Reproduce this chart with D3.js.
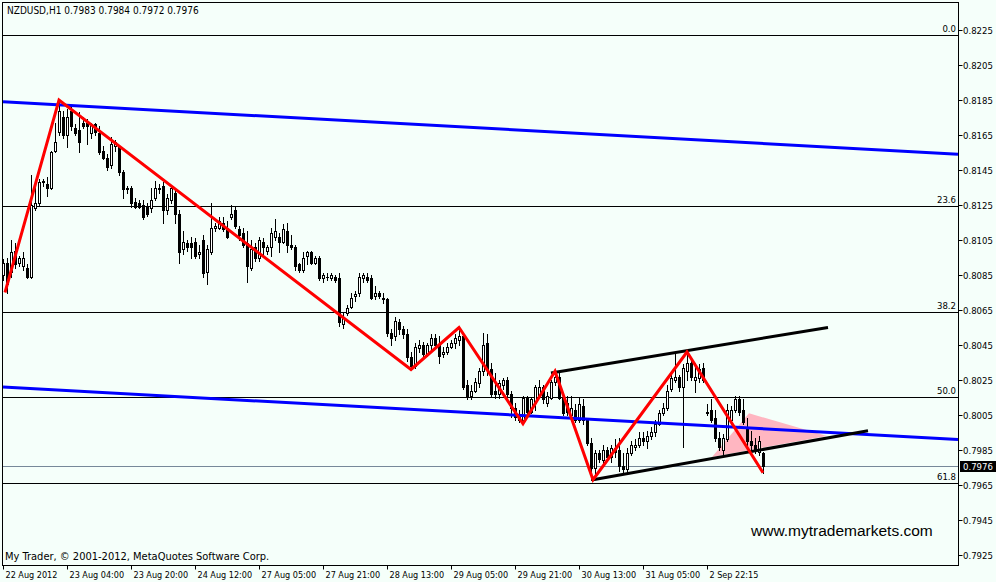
<!DOCTYPE html>
<html><head><meta charset="utf-8">
<script src="https://cdn.jsdelivr.net/npm/d3@7"></script>
<style>html,body{margin:0;padding:0;background:#f5fffa}svg{display:block}</style>
</head><body>
<svg id="chart" width="996" height="582"></svg>
<script>
// ---- data (NZDUSD H1) ----
const opens = [0.8085,0.8092,0.8087,0.8099,0.8092,0.8090,0.8089,0.8084,0.8123,0.8126,
0.8138,0.8137,0.8135,0.8156,0.8167,0.8175,0.8165,0.8179,0.8169,0.8168,
0.8172,0.8172,0.8166,0.8171,0.8166,0.8156,0.8152,0.8148,0.8159,0.8158,
0.8144,0.8134,0.8135,0.8127,0.8126,0.8125,0.8124,0.8123,0.8129,0.8134,
0.8136,0.8122,0.8128,0.8132,0.8120,0.8100,0.8103,0.8103,0.8104,0.8097,
0.8105,0.8087,0.8098,0.8112,0.8112,0.8115,0.8112,0.8118,0.8122,0.8111,
0.8109,0.8103,0.8089,0.8101,0.8095,0.8104,0.8099,0.8101,0.8107,0.8107,
0.8104,0.8110,0.8102,0.8101,0.8091,0.8088,0.8096,0.8098,0.8092,0.8095,
0.8083,0.8084,0.8083,0.8084,0.8083,0.8057,0.8063,0.8067,0.8073,0.8075,
0.8083,0.8084,0.8083,0.8073,0.8075,0.8072,0.8071,0.8052,0.8050,0.8058,
0.8054,0.8051,0.8038,0.8033,0.8043,0.8045,0.8040,0.8045,0.8049,0.8045,
0.8040,0.8041,0.8044,0.8046,0.8048,0.8050,0.8022,0.8016,0.8019,0.8023,
0.8030,0.8046,0.8031,0.8019,0.8017,0.8022,0.8025,0.8017,0.8009,0.8004,
0.8002,0.8015,0.8007,0.8012,0.8016,0.8021,0.8012,0.8015,0.8024,0.8027,
0.8015,0.8012,0.8005,0.8008,0.8002,0.8010,0.8002,0.7989,0.7975,0.7983,
0.7979,0.7985,0.7981,0.7986,0.7985,0.7976,0.7974,0.7983,0.7987,0.7988,
0.7992,0.7990,0.7993,0.7995,0.8000,0.8006,0.8009,0.8020,0.8025,0.8027,
0.8021,0.8030,0.8035,0.8025,0.8026,0.8032,0.8006,0.8008,0.8003,0.7992,
0.7985,0.7991,0.8002,0.8008,0.8014,0.8008,0.7998,0.7990,0.7988,0.7984,
0.7983];
const highs = [0.8094,0.8095,0.8105,0.8103,0.8096,0.8098,0.8091,0.8142,0.8135,0.8140,
0.8140,0.8141,0.8156,0.8172,0.8185,0.8179,0.8180,0.8181,0.8171,0.8178,
0.8175,0.8174,0.8172,0.8172,0.8170,0.8159,0.8154,0.8164,0.8162,0.8159,
0.8145,0.8136,0.8136,0.8129,0.8128,0.8128,0.8126,0.8135,0.8139,0.8137,
0.8138,0.8131,0.8136,0.8134,0.8122,0.8110,0.8105,0.8107,0.8106,0.8102,
0.8108,0.8102,0.8126,0.8115,0.8118,0.8118,0.8116,0.8125,0.8124,0.8113,
0.8112,0.8110,0.8105,0.8103,0.8107,0.8106,0.8102,0.8112,0.8117,0.8109,
0.8114,0.8115,0.8108,0.8102,0.8092,0.8098,0.8099,0.8099,0.8096,0.8096,
0.8086,0.8086,0.8086,0.8085,0.8086,0.8064,0.8068,0.8075,0.8076,0.8086,
0.8086,0.8086,0.8085,0.8079,0.8076,0.8075,0.8072,0.8054,0.8061,0.8060,
0.8056,0.8054,0.8041,0.8046,0.8048,0.8047,0.8046,0.8051,0.8051,0.8050,
0.8044,0.8046,0.8048,0.8051,0.8055,0.8051,0.8025,0.8022,0.8026,0.8032,
0.8052,0.8051,0.8035,0.8029,0.8025,0.8026,0.8027,0.8019,0.8012,0.8008,
0.8016,0.8016,0.8015,0.8022,0.8025,0.8022,0.8018,0.8025,0.8030,0.8029,
0.8017,0.8016,0.8016,0.8011,0.8015,0.8014,0.8003,0.7992,0.7985,0.7985,
0.7988,0.7987,0.7988,0.7991,0.7992,0.7983,0.7986,0.7990,0.7991,0.7995,
0.7995,0.7996,0.7998,0.8002,0.8008,0.8012,0.8022,0.8028,0.8040,0.8028,
0.8034,0.8041,0.8036,0.8035,0.8034,0.8035,0.8011,0.8014,0.8008,0.7995,
0.7994,0.8011,0.8010,0.8016,0.8016,0.8014,0.8003,0.7996,0.7992,0.7993,
0.7984];
const lows = [0.8082,0.8075,0.8084,0.8089,0.8090,0.8088,0.8083,0.8083,0.8122,0.8125,
0.8136,0.8130,0.8134,0.8155,0.8165,0.8163,0.8158,0.8168,0.8165,0.8155,
0.8169,0.8160,0.8163,0.8165,0.8154,0.8151,0.8145,0.8146,0.8156,0.8142,
0.8129,0.8132,0.8124,0.8123,0.8123,0.8117,0.8119,0.8121,0.8128,0.8132,
0.8115,0.8120,0.8126,0.8115,0.8092,0.8097,0.8099,0.8095,0.8095,0.8095,
0.8084,0.8080,0.8097,0.8110,0.8111,0.8110,0.8106,0.8117,0.8112,0.8105,
0.8101,0.8081,0.8088,0.8093,0.8093,0.8096,0.8097,0.8096,0.8105,0.8098,
0.8103,0.8098,0.8100,0.8088,0.8087,0.8087,0.8091,0.8091,0.8091,0.8082,
0.8081,0.8082,0.8082,0.8081,0.8056,0.8055,0.8062,0.8066,0.8070,0.8073,
0.8081,0.8081,0.8071,0.8071,0.8072,0.8069,0.8050,0.8045,0.8048,0.8051,
0.8049,0.8036,0.8031,0.8032,0.8041,0.8039,0.8039,0.8042,0.8044,0.8035,
0.8038,0.8040,0.8043,0.8043,0.8045,0.8020,0.8014,0.8014,0.8018,0.8021,
0.8028,0.8028,0.8016,0.8015,0.8015,0.8020,0.8016,0.8004,0.8002,0.8001,
0.8000,0.8005,0.8006,0.8008,0.8015,0.8012,0.8010,0.8014,0.8022,0.8014,
0.8005,0.8005,0.8003,0.8001,0.8001,0.8000,0.7988,0.7968,0.7970,0.7978,
0.7976,0.7979,0.7978,0.7981,0.7973,0.7971,0.7971,0.7982,0.7985,0.7987,
0.7988,0.7986,0.7991,0.7993,0.7999,0.8005,0.8008,0.8019,0.8024,0.8019,
0.7987,0.8025,0.8025,0.8018,0.8024,0.8024,0.8005,0.8001,0.7990,0.7985,
0.7982,0.7990,0.8000,0.8007,0.8005,0.8000,0.7988,0.7984,0.7983,0.7982,
0.7972];
const closes = [0.8092,0.8080,0.8098,0.8091,0.8095,0.8095,0.8084,0.8125,0.8126,0.8138,
0.8139,0.8135,0.8155,0.8161,0.8179,0.8165,0.8175,0.8170,0.8166,0.8161,
0.8170,0.8170,0.8171,0.8167,0.8155,0.8152,0.8147,0.8160,0.8161,0.8144,
0.8134,0.8135,0.8126,0.8124,0.8124,0.8118,0.8120,0.8128,0.8135,0.8135,
0.8122,0.8129,0.8135,0.8120,0.8098,0.8104,0.8101,0.8101,0.8096,0.8098,
0.8086,0.8100,0.8112,0.8113,0.8116,0.8111,0.8107,0.8120,0.8113,0.8108,
0.8102,0.8090,0.8100,0.8095,0.8105,0.8101,0.8101,0.8109,0.8110,0.8104,
0.8111,0.8102,0.8101,0.8090,0.8088,0.8095,0.8098,0.8092,0.8095,0.8083,
0.8085,0.8084,0.8085,0.8082,0.8058,0.8061,0.8066,0.8072,0.8074,0.8084,
0.8085,0.8082,0.8072,0.8075,0.8073,0.8071,0.8052,0.8049,0.8059,0.8054,
0.8051,0.8038,0.8033,0.8044,0.8045,0.8040,0.8045,0.8049,0.8045,0.8039,
0.8041,0.8044,0.8046,0.8049,0.8050,0.8021,0.8016,0.8019,0.8024,0.8030,
0.8045,0.8031,0.8017,0.8017,0.8023,0.8025,0.8017,0.8009,0.8004,0.8002,
0.8015,0.8007,0.8014,0.8021,0.8021,0.8014,0.8016,0.8024,0.8027,0.8015,
0.8006,0.8007,0.8009,0.8002,0.8011,0.8002,0.7989,0.7975,0.7983,0.7980,
0.7985,0.7981,0.7986,0.7984,0.7976,0.7974,0.7983,0.7988,0.7988,0.7992,
0.7990,0.7993,0.7995,0.8000,0.8006,0.8009,0.8019,0.8026,0.8027,0.8021,
0.8032,0.8035,0.8027,0.8027,0.8031,0.8025,0.8007,0.8002,0.7992,0.7987,
0.7992,0.8008,0.8008,0.8014,0.8007,0.8001,0.7990,0.7988,0.7985,0.7990,
0.7976];

const timeTickBars = [0,16,32,48,64,80,96,112,128,144,160,176];
const timeTickLabels = ["22 Aug 2012","23 Aug 04:00","23 Aug 20:00","24 Aug 12:00","27 Aug 05:00","27 Aug 21:00","28 Aug 13:00","29 Aug 05:00","29 Aug 21:00","30 Aug 13:00","31 Aug 05:00","2 Sep 22:15"];
const priceTicks = [0.8225,0.8205,0.8185,0.8165,0.8145,0.8125,0.8105,0.8085,0.8065,0.8045,0.8025,0.8005,0.7985,0.7965,0.7945,0.7925];

// ZigZag swing points [bar, price]
const zigzag = [[0.5,0.8075],[14,0.8185],[102,0.8031],[114,0.8055],[130,0.8000],[138,0.8030],[147.5,0.7968],[171,0.8041],[190,0.7972]];
// Blue trend lines (extend across chart)
const blueUpper = [[0,0.8184],[238.75,0.8154]];
const blueLower = [[0,0.8021],[238.75,0.7991]];
// Black channel segments
const channelUpper = [[137,0.8029],[206.25,0.8055]];
const channelLower = [[147.5,0.7968],[216.25,0.7996]];
// Pink triangle
const triangle = [[177.25,0.7981],[186.5,0.8006],[206,0.7993]];
// Fibonacci retracement (visible levels)
const fibHigh = 0.8222, fibLow = 0.7808;
const fibLevels = [0, 23.6, 38.2, 50.0, 61.8];
const fibLabels = ["0.0","23.6","38.2","50.0","61.8"];
const lastPrice = 0.7976;
const title = "NZDUSD,H1  0.7983 0.7984 0.7972 0.7976";
const footer = "My Trader, \u00a9 2001-2012, MetaQuotes Software Corp.";
const watermark = "www.mytrademarkets.com";

// ---- layout ----
const W = 996, H = 582;
const L = 2.5, T = 2.5, R = 958.5, B = 565.5;
const FONT = "'DejaVu Sans Condensed', 'Liberation Sans', Arial, sans-serif";
const WFONT = "'Liberation Sans', Arial, sans-serif";

const svg = d3.select("#chart");
svg.append("rect").attr("width", W).attr("height", H).attr("fill", "#f5fffa");

const x = d3.scaleLinear().domain([0, 1]).range([3, 7]);
const y = d3.scaleLinear().domain([0.7925, 0.8225]).range([555, 30]);

svg.append("defs").append("clipPath").attr("id", "plot")
  .append("rect").attr("x", L).attr("y", T).attr("width", R - L).attr("height", B - T);

const g = svg.append("g").attr("clip-path", "url(#plot)");

// pink triangle
g.append("path")
  .attr("d", d3.line().x(d => x(d[0])).y(d => y(d[1]))(triangle) + "Z")
  .attr("fill", "#ffb6c1").attr("stroke", "none");

// fib lines
const fibPrice = lv => fibHigh - (fibHigh - fibLow) * lv / 100;
fibLevels.forEach((lv, k) => {
  const yy = Math.round(y(fibPrice(lv))) + 0.5;
  g.append("line").attr("x1", L).attr("x2", R).attr("y1", yy).attr("y2", yy)
    .attr("stroke", "#000").attr("stroke-width", 1);
  svg.append("text").attr("x", 956).attr("y", yy - 3.5).attr("text-anchor", "end")
    .attr("font-family", FONT).attr("font-size", 9.5).attr("fill", "#000").text(fibLabels[k]);
});

// last price line
const yl = Math.round(y(lastPrice)) + 0.5;
g.append("line").attr("x1", L).attr("x2", R).attr("y1", yl).attr("y2", yl)
  .attr("stroke", "#778899").attr("stroke-width", 1);

// candles
const bars = d3.range(closes.length).map(i => ({i, o: opens[i], h: highs[i], l: lows[i], c: closes[i]}));
const cg = g.append("g");
bars.forEach(d => {
  const cx = Math.round(x(d.i));
  const top = Math.max(d.h, d.o, d.c), bot = Math.min(d.l, d.o, d.c);
  cg.append("line").attr("x1", cx + 0.5).attr("x2", cx + 0.5)
    .attr("y1", Math.round(y(top))).attr("y2", Math.round(y(bot)) + 1)
    .attr("stroke", "#000").attr("stroke-width", 1);
  const yo = Math.round(y(d.o)), yc = Math.round(y(d.c));
  if (d.c > d.o) {
    const h = Math.max(1, yo - yc);
    cg.append("rect").attr("x", cx - 0.5).attr("y", yc + 0.5).attr("width", 2).attr("height", h)
      .attr("fill", "#ffffff").attr("stroke", "#000").attr("stroke-width", 1);
  } else if (d.c < d.o) {
    const h = Math.max(1, yc - yo);
    cg.append("rect").attr("x", cx - 1).attr("y", yo).attr("width", 3).attr("height", h + 1)
      .attr("fill", "#000");
  } else {
    cg.append("rect").attr("x", cx - 1).attr("y", yo).attr("width", 3).attr("height", 1).attr("fill", "#000");
  }
});

const seg = pts => d3.line().x(d => x(d[0])).y(d => y(d[1]))(pts);

// blue trend lines
[blueUpper, blueLower].forEach(p => {
  g.append("path").attr("d", seg(p)).attr("fill", "none")
    .attr("stroke", "#0000ff").attr("stroke-width", 3);
});
// black channel
[channelUpper, channelLower].forEach(p => {
  g.append("path").attr("d", seg(p)).attr("fill", "none")
    .attr("stroke", "#000").attr("stroke-width", 3);
});
// zigzag
g.append("path").attr("d", seg(zigzag)).attr("fill", "none")
  .attr("stroke", "#ff0000").attr("stroke-width", 3).attr("stroke-linejoin", "miter");

// frame
svg.append("rect").attr("x", L).attr("y", T).attr("width", R - L).attr("height", B - T)
  .attr("fill", "none").attr("stroke", "#000").attr("stroke-width", 1);

// right price axis
priceTicks.forEach(p => {
  const yy = Math.round(y(p)) + 0.5;
  svg.append("line").attr("x1", R).attr("x2", R + 4).attr("y1", yy).attr("y2", yy).attr("stroke", "#000");
  svg.append("text").attr("x", 963).attr("y", yy + 3.5).attr("font-family", FONT)
    .attr("font-size", 9.5).attr("fill", "#000").text(p.toFixed(4));
});
// last price box
svg.append("rect").attr("x", 960).attr("y", yl - 5.5).attr("width", 36).attr("height", 11).attr("fill", "#000");
svg.append("text").attr("x", 963).attr("y", yl + 3.5).attr("font-family", FONT)
  .attr("font-size", 9.5).attr("fill", "#fff").text(lastPrice.toFixed(4));

// bottom time axis
timeTickBars.forEach((b, k) => {
  const xx = Math.round(x(b)) + 0.5;
  svg.append("line").attr("x1", xx).attr("x2", xx).attr("y1", B).attr("y2", B + 4).attr("stroke", "#000");
  svg.append("text").attr("x", xx + 2).attr("y", 578).attr("font-family", FONT)
    .attr("font-size", 9).attr("fill", "#000").text(timeTickLabels[k]);
});

// texts
svg.append("text").attr("x", 7).attr("y", 14).attr("font-family", FONT).attr("font-size", 10)
  .attr("fill", "#000").text(title);
svg.append("text").attr("x", 5).attr("y", 560).attr("font-family", FONT).attr("font-size", 11)
  .attr("fill", "#000").text(footer);
svg.append("text").attr("x", 751).attr("y", 536).attr("font-family", WFONT).attr("font-size", 15.5)
  .attr("fill", "#000").text(watermark);
</script>
</body></html>
